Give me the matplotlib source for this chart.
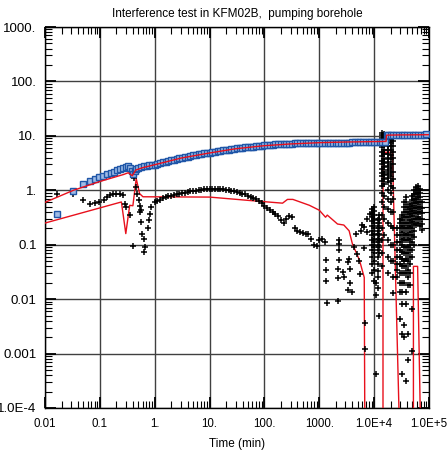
import matplotlib
matplotlib.use("Agg")
import matplotlib.pyplot as plt
from matplotlib.ticker import FixedLocator, LogLocator, NullFormatter

plt.rcParams['font.family'] = ['Liberation Sans', 'DejaVu Sans']

# ---------------- data ----------------
# drawdown (blue squares)
draw_t = [0.0163, 0.0318, 0.0484, 0.0658, 0.081, 0.097, 0.115, 0.136, 0.158, 0.18,
          0.206, 0.23, 0.265, 0.297, 0.33, 0.36, 0.386, 0.405, 0.43, 0.46,
          0.5, 0.56, 0.63, 0.71, 0.79, 0.89, 1.0, 1.12, 1.26, 1.41, 1.58, 1.78, 2.0,
          2.24, 2.51, 2.82, 3.16, 3.55, 3.98, 4.47, 5.01, 5.62, 6.31, 7.08, 7.94,
          8.91, 10, 11.2, 12.6, 14.1, 15.8, 17.8, 20, 22.4, 25.1, 28.2, 31.6, 35.5,
          39.8, 44.7, 50.1, 56.2, 63.1, 70.8, 79.4, 89.1, 100, 112, 126, 141, 158,
          178, 200, 224, 251, 282, 316, 355, 398, 447, 501, 562, 631, 708, 794, 891,
          1000, 1122, 1259, 1413, 1585, 1778, 1995, 2239, 2512, 2818, 3162, 3548,
          3981, 4467, 5012, 5623, 6310, 7079, 7943, 8913, 10000, 11220, 12590,
          14130, 15850, 17000, 17780, 19950, 22390, 25120, 28180, 31620, 35480,
          39810, 44670, 50120, 56230, 63100, 70790, 79430, 87000]
draw_s = [0.37, 0.97, 1.29, 1.46, 1.59, 1.76, 1.83, 1.97, 2.08, 2.21,
          2.33, 2.44, 2.57, 2.69, 2.75, 2.62, 2.27, 2.03, 2.24, 2.5,
          2.62, 2.7, 2.76, 2.82, 2.88, 2.93, 2.97, 3.06, 3.15, 3.25, 3.35, 3.45, 3.55,
          3.65, 3.75, 3.86, 3.97, 4.07, 4.17, 4.27, 4.37, 4.46, 4.55, 4.65, 4.75,
          4.85, 4.94, 5.03, 5.12, 5.21, 5.3, 5.4, 5.5, 5.6, 5.7, 5.79, 5.88, 5.96,
          6.05, 6.12, 6.2, 6.28, 6.37, 6.46, 6.55, 6.64, 6.72, 6.79, 6.85, 6.9, 6.95,
          7.0, 7.05, 7.09, 7.13, 7.17, 7.2, 7.24, 7.27, 7.3, 7.33, 7.36, 7.38, 7.4, 7.42, 7.44,
          7.45, 7.46, 7.47, 7.48, 7.49, 7.5, 7.5, 7.51, 7.52, 7.53, 7.54, 7.55,
          7.56, 7.57, 7.58, 7.59, 7.6, 7.61, 7.62, 7.63, 7.64, 7.65, 7.66,
          7.67, 7.68, 10.3, 10.32, 10.35, 10.37, 10.4, 10.42, 10.45, 10.47,
          10.5, 10.5, 10.5, 10.52, 10.55, 10.55, 10.55, 10.6]

# model fit of drawdown (red)
fit_t = [0.01, 0.033, 0.1, 0.27, 0.33, 0.39, 0.45, 0.6, 1, 3, 10, 30, 100, 300,
         1000, 3000, 10000, 16500, 16800, 30000, 100000]
fit_s = [0.6, 1.0, 1.45, 1.95, 2.1, 1.85, 2.35, 2.6, 2.95, 3.9, 4.85, 5.8, 6.6, 7.1,
         7.5, 7.7, 7.85, 7.9, 10.3, 10.4, 10.5]

# model fit of derivative (red); None breaks the line
fitd_t = [0.01, 0.247, 0.297, 0.35, 0.40, 0.46, 0.53, 0.61, 10, 53, 214, 263, 330,
          660, 1000, 1300, 1400, 2150, 2800, 3500, 4000, 5400, 6600, 6800, None,
          14500, 14500, 21500, 30000, None, 52000, 52000, 62000, 72000]
fitd_s = [0.25, 0.61, 0.16, 0.53, 0.52, 1.64, 0.87, 0.76, 0.75, 0.65, 0.58, 0.68, 0.68,
          0.53, 0.43, 0.32, 0.35, 0.24, 0.23, 0.18, 0.105, 0.052, 0.025, 1e-5, None,
          1e-5, 5.0, 5.0, 1e-5, None, 1e-5, 0.04, 0.04, 1e-5]

# derivative data (black plus), scattered part
deriv_t = [0.0163, 0.0318, 0.0484, 0.0658, 0.081, 0.097, 0.118, 0.133, 0.152, 0.174,
           0.20, 0.23, 0.26, 0.285, 0.305, 0.35, 0.405, 0.415, 0.45, 0.47, 0.51,
           0.55, 0.56, 0.545, 0.57, 0.59, 0.63, 0.66, 0.64, 0.76, 0.79, 0.83, 0.87,
           1.0, 1.12, 1.26, 1.41, 1.58, 1.78, 2.0, 2.24, 2.51, 2.82, 3.16, 3.55, 3.98,
           4.47, 5.01, 5.62, 6.31, 7.08, 7.94, 8.91, 10, 11.2, 12.6, 14.1, 15.8, 17.8,
           20, 22.4, 25.1, 28.2, 31.6, 35.5, 39.8, 44.7, 50.1, 56.2, 63.1, 70.8, 79.4,
           89.1, 100, 112, 126, 141, 158, 178, 200, 224, 251, 282, 316, 355, 398, 447,
           501, 562, 631, 708, 794, 891, 1000, 1122, 1259,
           1300, 1300, 1300, 1375, 2150, 2200, 2200, 2250, 2250, 2250,
           2300, 2700, 2800, 3350, 3350, 3500, 3700, 3700, 4000, 4300, 4600, 4950,
           5200, 5500, 5650, 6100, 6500, 6500, 6800, 6800, 7300, 7500, 8500,
           10800, 10800, 10800]
deriv_s = [0.87, 0.87, 0.65, 0.57, 0.58, 0.61, 0.67, 0.75, 0.81, 0.84,
           0.87, 0.87, 0.83, 0.57, 0.50, 0.35, 0.094, 1.71, 1.15, 0.87, 0.65,
           0.51, 0.43, 0.40, 0.26, 0.16, 0.13, 0.09, 0.073, 0.20, 0.28, 0.37, 0.49,
           0.61, 0.64, 0.67, 0.71, 0.74, 0.77, 0.79, 0.82, 0.84, 0.87, 0.89, 0.91, 0.93,
           0.95, 0.97, 0.99, 1.01, 1.03, 1.05, 1.06, 1.07, 1.06, 1.04, 1.05, 1.06, 1.04,
           1.02, 1.0, 0.98, 0.95, 0.93, 0.9, 0.87, 0.84, 0.8, 0.76, 0.72, 0.68, 0.64,
           0.58, 0.52, 0.47, 0.43, 0.4, 0.37, 0.34, 0.28, 0.25, 0.3, 0.34, 0.32, 0.2, 0.18, 0.17,
           0.165, 0.16, 0.155, 0.13, 0.1, 0.095, 0.12, 0.13, 0.11,
           0.052, 0.034, 0.022, 0.0085, 0.0094, 0.024, 0.036, 0.052, 0.08, 0.105,
           0.12, 0.031, 0.025, 0.048, 0.0145, 0.055, 0.036, 0.02, 0.0135, 0.09, 0.16, 0.068,
           0.05, 0.029, 0.18, 0.23, 0.088, 0.21, 0.0037, 0.0012, 0.17, 0.3, 0.37,
           0.02, 0.0117, 0.00042]

# derivative data (black plus), dense late columns
col_t = [9000, 9800, 12000, 12500, 14000, 15000, 18000, 20000, 22000, 26000, 29000,
         32000, 35000, 38000, 42000, 46000, 49000, 53000, 58000, 63000, 69000, 75000]
col_s = [
    [0.45, 0.38, 0.32, 0.27, 0.22, 0.18, 0.15, 0.12, 0.1, 0.08, 0.06, 0.045, 0.03],
    [0.5, 0.42, 0.35, 0.3, 0.25, 0.2, 0.16, 0.13, 0.11, 0.09, 0.07, 0.05, 0.035, 0.022],
    [0.28, 0.22, 0.18, 0.15, 0.12, 0.1, 0.08, 0.06, 0.045, 0.033, 0.025, 0.016],
    [0.35, 0.3, 0.25, 0.2, 0.16, 0.13, 0.11, 0.09, 0.07, 0.005],
    [11.5, 10.5, 9, 7.5, 6.2, 5, 4.2, 3.5, 3, 2.5, 2.1, 1.8, 1.5, 1.2, 0.9, 0.6, 0.35, 0.2, 0.12, 0.07, 0.04],
    [11, 9.5, 8, 6.8, 5.6, 4.6, 3.8, 3.2, 2.7, 2.2, 1.9, 1.6, 1.3, 0.8, 0.5, 0.3, 0.15],
    [10.5, 9.5, 8.5, 7.5, 6.5, 5.5, 4.6, 3.9, 3.3, 2.8, 2.4, 2.0, 1.7, 1.4, 1.0, 0.7, 0.45, 0.25, 0.12, 0.06, 0.03],
    [9.8, 8.8, 7.6, 6.4, 5.4, 4.5, 3.7, 3.1, 2.6, 2.2, 1.8, 1.5, 1.2, 0.9, 0.6, 0.4, 0.22, 0.1, 0.05],
    [8, 6.5, 5, 4, 3, 2.2, 1.6, 1.1, 0.7, 0.4, 0.2, 0.1, 0.05, 0.025, 0.013],
    [0.2, 0.15, 0.11, 0.08, 0.06, 0.045, 0.034, 0.025],
    [0.3, 0.25, 0.2, 0.15, 0.11, 0.08, 0.06, 0.045, 0.03, 0.02, 0.0135, 0.0043],
    [0.35, 0.28, 0.22, 0.17, 0.13, 0.1, 0.075, 0.055, 0.04, 0.03, 0.02, 0.0135, 0.0082, 0.0023, 0.00042],
    [0.6, 0.5, 0.4, 0.32, 0.25, 0.2, 0.15, 0.12, 0.09, 0.07, 0.05, 0.04, 0.03, 0.02, 0.0033, 0.002],
    [0.75, 0.62, 0.5, 0.4, 0.32, 0.25, 0.2, 0.16, 0.12, 0.09, 0.07, 0.055, 0.04, 0.03, 0.0135, 0.008, 0.00032],
    [0.5, 0.4, 0.32, 0.25, 0.2, 0.15, 0.12, 0.09, 0.07, 0.05, 0.035, 0.025, 0.018, 0.0023, 0.00077],
    [0.55, 0.45, 0.36, 0.28, 0.22, 0.17, 0.13, 0.1, 0.08, 0.06, 0.045, 0.03, 0.018],
    [0.8, 0.65, 0.52, 0.42, 0.33, 0.26, 0.2, 0.15, 0.11, 0.08, 0.06, 0.0066, 0.0011],
    [1.0, 0.85, 0.7, 0.58, 0.48, 0.38, 0.3, 0.24, 0.18, 0.14, 0.1],
    [1.15, 1.0, 0.85, 0.7, 0.58, 0.48, 0.38, 0.3, 0.23],
    [1.2, 1.05, 0.9, 0.75, 0.62, 0.5, 0.4, 0.32, 0.25],
    [1.05, 0.9, 0.75, 0.62, 0.5, 0.4, 0.3, 0.22],
    [0.6, 0.48, 0.38, 0.3, 0.24, 0.19],
]

x_ticks = [0.01, 0.1, 1, 10, 100, 1000, 1e4, 1e5]
x_labels = ['0.01', '0.1', '1.', '10.', '100.', '1000.', '1.0E+4', '1.0E+5']
y_ticks = [1e-4, 1e-3, 0.01, 0.1, 1, 10, 100, 1000]
y_labels = ['1.0E-4', '0.001', '0.01', '0.1', '1.', '10.', '100.', '1000.']

title = 'Interference test in KFM02B,  pumping borehole'
xlabel = 'Time (min)'

# ---------------- plot ----------------
W, H = 448, 453
fig = plt.figure(figsize=(W / 100, H / 100), dpi=100)
ax = fig.add_axes([45 / W, 1 - 408 / H, 384 / W, 381 / H])
ax.set_xscale('log')
ax.set_yscale('log')

red = '#e8101c'
blue = '#1f56a8'

def nan(v):
    return float('nan') if v is None else v

ax.plot([nan(v) for v in fitd_t], [nan(v) for v in fitd_s], color=red, lw=1.0, zorder=3)

# black plus markers
bt = list(deriv_t)
bs = list(deriv_s)
for t, vals in zip(col_t, col_s):
    bt += [t] * len(vals)
    bs += vals
ax.plot(bt, bs, linestyle='none', marker='+', color='black', ms=4.8, mew=1.1, zorder=4)

ax.plot(draw_t, draw_s, linestyle='none', marker='s', ms=3.9, mfc='#9fbbe6',
        mec=blue, mew=1.0, zorder=5)
ax.plot(fit_t, fit_s, color=red, lw=1.0, zorder=6)

ax.set_xlim(0.01, 1e5)
ax.set_ylim(1e-4, 1000)

ax.xaxis.set_major_locator(FixedLocator(x_ticks))
ax.yaxis.set_major_locator(FixedLocator(y_ticks))
ax.set_xticklabels(x_labels)
ax.set_yticklabels(y_labels)
ax.xaxis.set_minor_locator(LogLocator(base=10, subs=range(2, 10), numticks=20))
ax.yaxis.set_minor_locator(LogLocator(base=10, subs=range(2, 10), numticks=20))
ax.xaxis.set_minor_formatter(NullFormatter())
ax.yaxis.set_minor_formatter(NullFormatter())

ax.tick_params(which='both', direction='in', top=True, right=True, colors='black')
ax.tick_params(which='major', length=8, width=1.3)
ax.tick_params(which='minor', length=5, width=0.8)
ax.tick_params(axis='x', which='major', pad=7, labelsize=8.3)
ax.tick_params(axis='y', which='major', pad=6, labelsize=9.5)

ax.grid(True, which='major', color='#404040', lw=1.0)
for sp in ax.spines.values():
    sp.set_linewidth(1.0)
    sp.set_color('black')

ax.set_title(title, fontsize=8.5, pad=7)
ax.set_xlabel(xlabel, fontsize=8.5, labelpad=6)

fig.savefig('out.png', dpi=100)
